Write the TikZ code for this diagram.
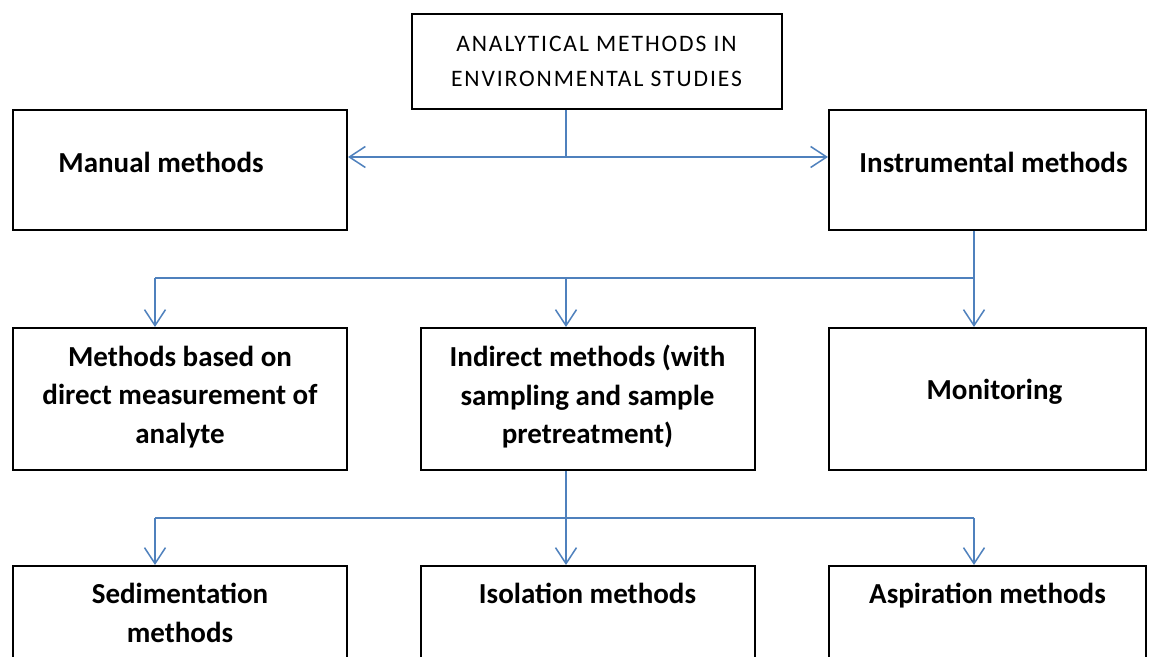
\documentclass[tikz,border=0pt]{standalone}
\usepackage{fontspec}
\setmainfont{Carlito}
\newfontfamily\capsfont[LetterSpace=8]{Carlito}
\usetikzlibrary{arrows.meta, positioning}
\definecolor{linkblue}{HTML}{4F81BD}
\tikzset{
  box/.style  ={draw=black, line width=1pt, fill=white, inner sep=0pt,
                align=center, minimum height=71pt,
                font=\fontsize{14.5}{19.25}\selectfont\bfseries},
  boxw/.style ={box, minimum width=167pt},
  boxn/.style ={box, minimum width=158.5pt},
  title/.style={box, minimum width=185pt, minimum height=47.5pt,
                font=\fontsize{11.8}{17.5}\selectfont\capsfont},
  txt/.style  ={font=\fontsize{14.5}{19.25}\selectfont\bfseries,
                align=center, inner sep=0pt},
  link/.style ={draw=linkblue, line width=0.75pt},
  flow/.style ={link, -{Straight Barb[length=8pt,width=10.5pt]}}
}
\begin{document}
\begin{tikzpicture}[x=0.5pt, y=-0.5pt]
  \fill[white] (0,0) rectangle (1153,657);
  \useasboundingbox (0,0) rectangle (1153,657);
  \clip (0,0) rectangle (1153,657);

  \node[title] (root) at (596.5,61.5) {ANALYTICAL METHODS IN\\ENVIRONMENTAL STUDIES};
  \node[boxw, minimum height=60pt,
        label={[txt, xshift=-9.5pt, yshift=4pt]center:Manual methods}] (manual) at (180,170) {};
  \node[boxn, minimum height=60pt,
        label={[txt, xshift=3pt, yshift=4pt]center:Instrumental methods}] (instr) at (987.5,170) {};

  \node[boxw, below=48pt of manual,
        label={[txt, yshift=1pt]center:Methods based on\\direct measurement of\\analyte}] (direct) {};
  \node[boxw, right=35.75pt of direct,
        label={[txt, yshift=1pt]center:Indirect methods (with\\sampling and sample\\pretreatment)}] (indirect) {};
  \node[boxn, below=48pt of instr,
        label={[txt, xshift=3.5pt, yshift=3.5pt]center:Monitoring}] (monit) {};

  \node[boxw, below=47pt of direct,
        label={[txt, anchor=north, yshift=-9pt]north:Sedimentation\\methods}] (sedim) {};
  \node[boxw, below=47pt of indirect,
        label={[txt, anchor=north, yshift=-9pt]north:Isolation methods}] (isol) {};
  \node[boxn, below=47pt of monit,
        label={[txt, anchor=north, yshift=-9pt]north:Aspiration methods}] (aspir) {};

  % first split
  \coordinate (fork1) at (566,157);
  \draw[link] (root.south -| fork1) -- (fork1);
  \draw[flow] (fork1) -- (fork1 -| manual.east);
  \draw[flow] (fork1) -- (fork1 -| instr.west);

  % instrumental methods
  \coordinate (bus1l) at (155,278);
  \coordinate (bus1m) at (566,278);
  \coordinate (bus1r) at (974,278);
  \draw[link] (instr.south -| bus1r) -- (bus1r) -- (bus1l);
  \draw[flow] (bus1l) -- (bus1l |- direct.north);
  \draw[flow] (bus1m) -- (bus1m |- indirect.north);
  \draw[flow] (bus1r) -- (bus1r |- monit.north);

  % indirect methods
  \coordinate (bus2l) at (155,518);
  \coordinate (bus2m) at (566,518);
  \coordinate (bus2r) at (974,518);
  \draw[link] (indirect.south -| bus2m) -- (bus2m);
  \draw[link] (bus2l) -- (bus2r);
  \draw[flow] (bus2l) -- (bus2l |- sedim.north);
  \draw[flow] (bus2m) -- (bus2m |- isol.north);
  \draw[flow] (bus2r) -- (bus2r |- aspir.north);
\end{tikzpicture}
\end{document}
